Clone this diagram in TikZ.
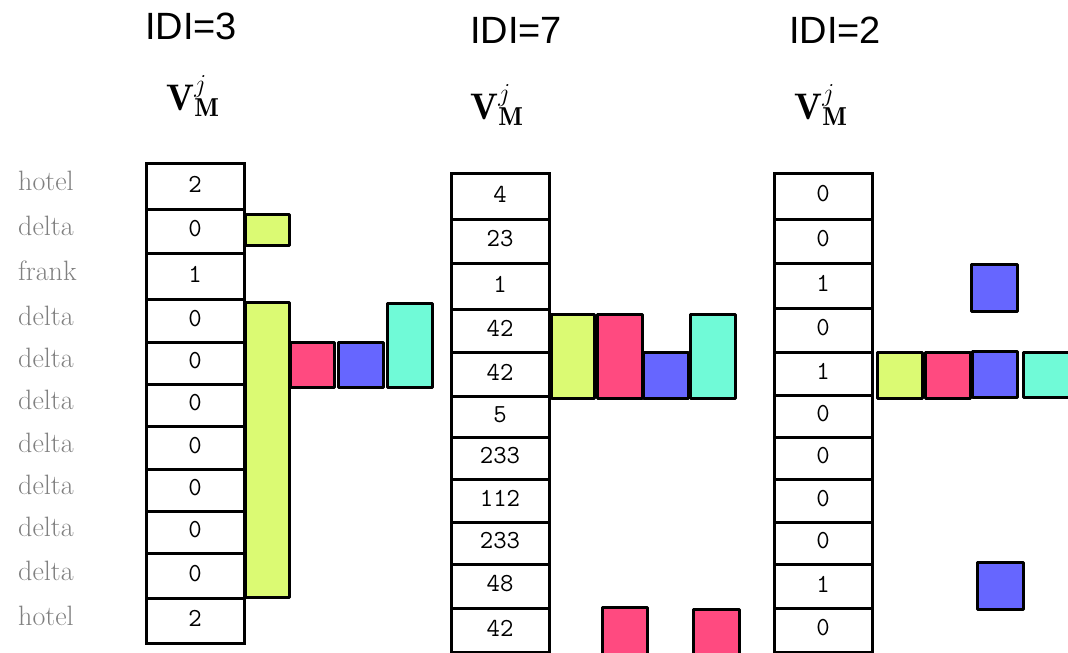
\RequirePackage{fix-cm}
\documentclass[tikz,border=0pt]{standalone}
\usepackage{fontspec}
\newfontfamily\hdrfont{Liberation Sans}
\definecolor{bgreen}{RGB}{219,250,115}
\definecolor{bred}{RGB}{255,74,128}
\definecolor{bblue}{RGB}{102,102,255}
\definecolor{bcyan}{RGB}{112,250,215}
\begin{document}
\begin{tikzpicture}[x=1pt,y=-1pt,
  cell/.style={draw=black, line width=3pt, fill=white, rectangle, inner sep=0pt,
     minimum width=98pt, font=\fontsize{25.5}{28}\ttfamily},
  celltext/.style={inner sep=0pt, yshift=2pt, font=\fontsize{26}{28}\ttfamily},
  rowlabel/.style={anchor=base west, inner sep=0pt, text=black!50, font=\fontsize{28}{30}\rmfamily},
  hdr/.style={anchor=base, inner sep=0pt, font=\fontsize{38}{44}\hdrfont},
  vlab/.style={inner sep=0pt, font=\fontsize{37}{44}\selectfont},
  bar/.style={draw=black, line width=3pt, line join=round}]
\useasboundingbox (0,0) rectangle (1068,653);
\clip (0,0) rectangle (1068,653);

% headers
\node[hdr] (h1) at (191,39) {IDI=3};
\node[hdr] (h2) at (516,43) {IDI=7};
\node[hdr] (h3) at (835,43) {IDI=2};
\node[vlab] (v1) at (193,96) {$\mathbf{V}^{j}_{\mathbf{M}}$};
\node[vlab] (v2) at (497,105) {$\mathbf{V}^{j}_{\mathbf{M}}$};
\node[vlab] (v3) at (821,105) {$\mathbf{V}^{j}_{\mathbf{M}}$};

% column 1
\foreach \t/\b/\v/\w [count=\i] in {163/209/2/hotel,209/253/0/delta,253/299/1/frank,299/342/0/delta,342/384/0/delta,384/426/0/delta,426/469/0/delta,469/511/0/delta,511/553/0/delta,553/598/0/delta,598/643/2/hotel}{
  \node[cell, minimum height={\b-\t}, label={[celltext]center:\v}] (a\i) at (195,{(\t+\b)/2}) {};
  \node[rowlabel] (l\i) at (18,{(\t+\b)/2+4.5}) {\w};
}
% column 2
\foreach \t/\b/\v [count=\i] in {173/219/4,219/263/23,263/309/1,309/352/42,352/396/42,396/437/5,437/479/233,479/522/112,522/564/233,564/608/48,608/652/42}{
  \node[cell, minimum height={\b-\t}, label={[celltext]center:\v}] (b\i) at (500,{(\t+\b)/2}) {};
}
\draw[line width=3pt] (451,652) -- (451,660) (549,652) -- (549,660);
% column 3
\foreach \t/\b/\v [count=\i] in {173/219/0,219/263/0,263/308/1,308/352/0,352/395/1,395/437/0,437/479/0,479/522/0,522/564/0,564/608/1,608/652/0}{
  \node[cell, minimum height={\b-\t}, label={[celltext]center:\v}] (c\i) at (823,{(\t+\b)/2}) {};
}
\draw[line width=3pt] (774,652) -- (774,660) (872,652) -- (872,660);

% bars column 1
\draw[bar, fill=bgreen] (245,214) rectangle (289,245);
\draw[bar, fill=bgreen] (245,302) rectangle (289,597);
\draw[bar, fill=bred]   (290,342) rectangle (334,387);
\draw[bar, fill=bblue]  (338,342) rectangle (383,387);
\draw[bar, fill=bcyan]  (387,303) rectangle (432,387);

% bars column 2
\draw[bar, fill=bgreen] (551,314) rectangle (594,398);
\draw[bar, fill=bred]   (597,314) rectangle (642,398);
\draw[bar, fill=bblue]  (643,352) rectangle (688,398);
\draw[bar, fill=bcyan]  (690,314) rectangle (735,398);
\draw[bar, fill=bred]   (602,607) rectangle (647,660);
\draw[bar, fill=bred]   (693,609) rectangle (739,660);

% bars column 3
\draw[bar, fill=bgreen] (877,352) rectangle (922,398);
\draw[bar, fill=bred]   (925,352) rectangle (970,398);
\draw[bar, fill=bblue]  (972,351) rectangle (1017,397);
\draw[bar, fill=bcyan]  (1023,352) rectangle (1070,397);
\draw[bar, fill=bblue]  (971,264) rectangle (1017,311);
\draw[bar, fill=bblue]  (977,562) rectangle (1023,609);
\end{tikzpicture}
\end{document}
